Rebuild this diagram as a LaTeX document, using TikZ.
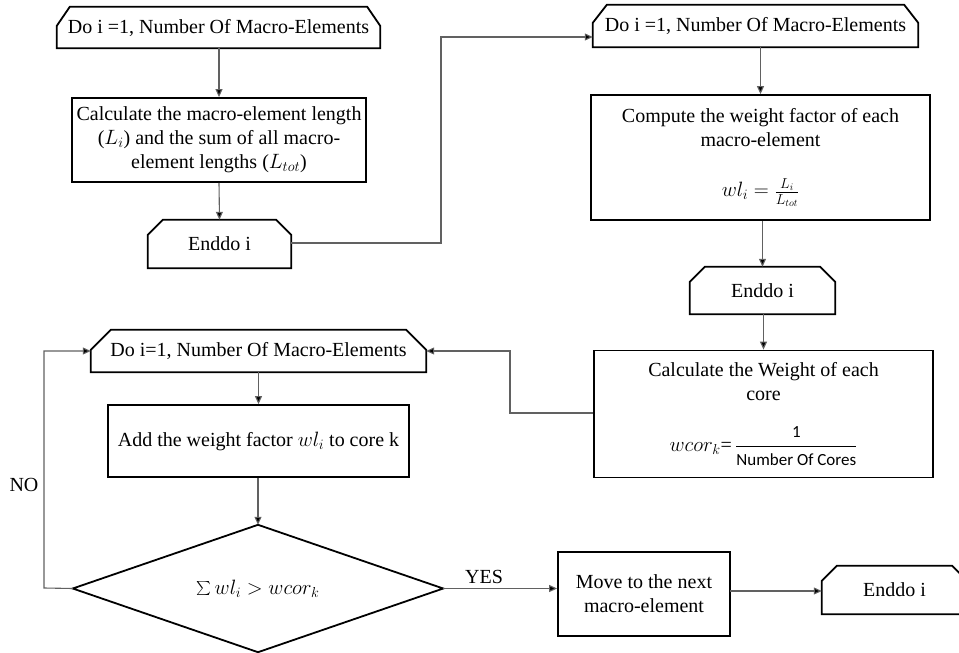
\documentclass[tikz,border=0pt]{standalone}
\usepackage{fontspec}
\setmainfont{Liberation Serif}
\newfontfamily\carl{Carlito}
\usetikzlibrary{arrows.meta,calc}
\newcommand\loopoutline[3]{\draw[outl] (#1.south west) -- ([yshift=-#3]#1.north west) -- ([xshift=#2]#1.north west) -- ([xshift=-#2]#1.north east) -- ([yshift=-#3]#1.north east) -- (#1.south east) -- cycle;}
\begin{document}
\begin{tikzpicture}[x=1pt,y=-1pt,
  font=\fontsize{20}{24}\selectfont,
  outl/.style={draw=black, line width=1.8pt, line join=miter},
  bx/.style={draw=black, line width=1.8pt, inner sep=0pt, align=center},
  lp/.style={inner sep=0pt, align=center},
  conn/.style={draw=black!62, line width=1.1pt, -{Triangle[length=8pt,width=7pt,fill=black]}},
  lbl/.style={inner sep=0pt, font=\fontsize{20}{22}\selectfont}]
\useasboundingbox (0,0) rectangle (959,653);

% first loop
\node[lp, minimum width=323pt, minimum height=41pt] (do1) at (218.5,27.5) {Do i =1, Number Of Macro-Elements};
\loopoutline{do1}{13pt}{19pt}
\node[bx, minimum width=294pt, minimum height=84pt] (b1) at (219,140) {Calculate the macro-element length\\ ($L_i$) and the sum of all macro-\\ element lengths ($L_{tot}$)};
\node[lp, minimum width=143pt, minimum height=48pt] (e1) at (219.5,244) {Enddo i};
\loopoutline{e1}{15pt}{15pt}

% second loop
\node[lp, minimum width=325pt, minimum height=42pt] (do2) at (755.5,26) {Do i =1, Number Of Macro-Elements};
\loopoutline{do2}{14pt}{18pt}
\node[bx, minimum width=339pt, minimum height=125pt] (b2) at (760.5,157.5) {Compute the weight factor of each\\ macro-element\\[26pt] $wl_i=\frac{L_i}{L_{tot}}$};
\node[lp, minimum width=145pt, minimum height=47pt] (e2) at (762.5,290.5) {Enddo i};
\loopoutline{e2}{15pt}{15pt}
\node[bx, minimum width=339pt, minimum height=127pt] (b3) at (763.5,414) {Calculate the Weight of each\\ core\\[25pt] $wcor_k$=\,$\displaystyle\frac{\mbox{\carl\fontsize{17}{18}\selectfont 1}}{\mbox{\carl\fontsize{17}{18}\selectfont Number Of Cores}}$};

% third loop
\node[lp, minimum width=335pt, minimum height=42pt] (do3) at (258.5,351) {Do i=1, Number Of Macro-Elements};
\loopoutline{do3}{20pt}{20pt}
\node[bx, minimum width=301pt, minimum height=72pt] (b4) at (258.5,441) {Add the weight factor $wl_i$ to core k};
\node[lp, minimum width=370pt, minimum height=127pt] (dm) at (258,588.5) {$\vcenter{\hbox{\scalebox{1.4}{$\sum$}}}\, wl_i > wcor_k$};
\draw[outl] (dm.north) -- (dm.east) -- (dm.south) -- (dm.west) -- cycle;
\node[bx, minimum width=172pt, minimum height=84pt] (mv) at (644,594) {Move to the next\\ macro-element};
\node[lp, minimum width=145pt, minimum height=48pt] (e3) at (894.5,590) {Enddo i};
\loopoutline{e3}{15pt}{15pt}

% labels
\node[lbl] (no) at (24,485) {NO};
\node[lbl] (yes) at (484,577) {YES};

% connectors
\draw[conn] (do1.south -| b1.north) -- (b1.north);
\draw[conn] (b1.south) -- (e1.north);
\coordinate (c1) at (441,243);
\draw[conn] (e1.east |- c1) -- (c1) |- ([yshift=-11pt]do2.west);
\draw[conn] (do2.south -| b2.north) -- (b2.north);
\draw[conn] (b2.south -| e2.north) -- (e2.north);
\draw[conn] (e2.south -| b3.north) -- (b3.north);
\coordinate (c2) at (510,413);
\draw[conn] (b3.west |- c2) -- (c2) |- (do3.east);
\draw[conn] (do3.south -| b4.north) -- (b4.north);
\draw[conn] (b4.south -| dm.north) -- (dm.north);
\coordinate (c3) at (44,588);
\draw[conn] (dm.west) -- (c3) |- (do3.west);
\draw[conn] (dm.east) -- (dm.east -| mv.west);
\coordinate (c4) at (730,591);
\draw[conn] (c4) -- (c4 -| e3.west);
\end{tikzpicture}
\end{document}
